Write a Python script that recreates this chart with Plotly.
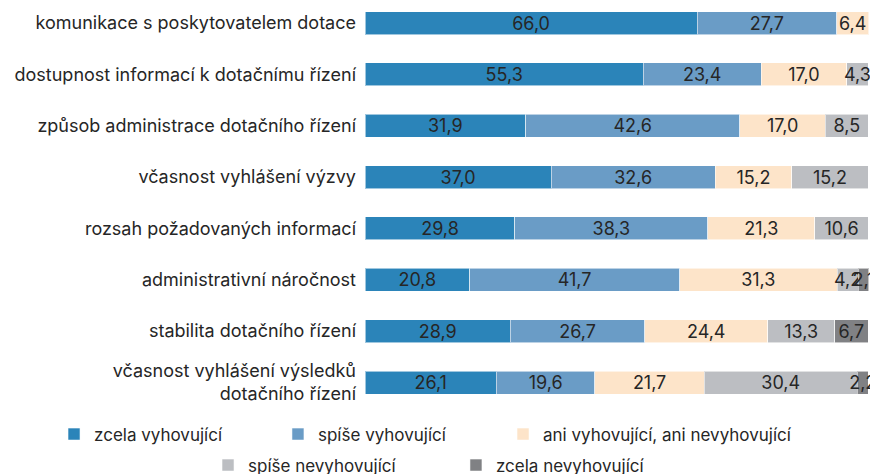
import plotly.graph_objects as go

categories = [
    "komunikace s poskytovatelem dotace",
    "dostupnost informací k dotačnímu řízení",
    "způsob administrace dotačního řízení",
    "včasnost vyhlášení výzvy",
    "rozsah požadovaných informací",
    "administrativní náročnost",
    "stabilita dotačního řízení",
    "včasnost vyhlášení výsledků<br>dotačního řízení",
]

series_names = [
    "zcela vyhovující",
    "spíše vyhovující",
    "ani vyhovující, ani nevyhovující",
    "spíše nevyhovující",
    "zcela nevyhovující",
]

zcela_vyhovujici = [66.0, 55.3, 31.9, 37.0, 29.8, 20.8, 28.9, 26.1]
spise_vyhovujici = [27.7, 23.4, 42.6, 32.6, 38.3, 41.7, 26.7, 19.6]
ani_ani = [6.4, 17.0, 17.0, 15.2, 21.3, 31.3, 24.4, 21.7]
spise_nevyhovujici = [None, 4.3, 8.5, 15.2, 10.6, 4.2, 13.3, 30.4]
zcela_nevyhovujici = [None, None, None, None, None, 2.1, 6.7, 2.2]

series_values = [zcela_vyhovujici, spise_vyhovujici, ani_ani,
                 spise_nevyhovujici, zcela_nevyhovujici]
colors = ["#2b84b9", "#6a9cc6", "#fde4c9", "#bcbec2", "#808184"]
legend_ids = ["legend", "legend2", "legend3", "legend4", "legend5"]
# legend entry positions (container fractions)
legend_x = [0.0621, 0.3195, 0.5782, 0.2391, 0.5241]
legend_y = [0.1213, 0.1213, 0.1213, 0.0559, 0.0559]

FONT = "Inter"
TXT = "#262626"

fig = go.Figure()
for name, vals, col, lg in zip(series_names, series_values, colors, legend_ids):
    fig.add_trace(go.Bar(
        y=categories, x=vals, name=name, orientation="h",
        marker=dict(color=col, line=dict(color="rgba(255,255,255,0.55)", width=1)),
        text=vals, texttemplate="%{x:.1f}", textposition="inside",
        insidetextanchor="middle", textangle=0, constraintext="none",
        textfont=dict(family=FONT, size=18, color=TXT),
        cliponaxis=False, legend=lg, showlegend=True,
    ))

legends = {}
for lg, lx, ly in zip(legend_ids, legend_x, legend_y):
    legends[lg] = dict(orientation="h", xref="container", yref="container",
                       x=lx, y=ly, xanchor="left", yanchor="top",
                       font=dict(family=FONT, size=17, color=TXT),
                       bgcolor="rgba(0,0,0,0)")

fig.update_layout(
    width=870, height=474,
    showlegend=True,
    barmode="stack", bargap=0.552,
    separators=",.",
    paper_bgcolor="white", plot_bgcolor="white",
    margin=dict(l=365, r=1, t=0, b=66, autoexpand=False),
    font=dict(family=FONT, size=18, color=TXT),
    xaxis=dict(range=[0, 100.15], visible=False, fixedrange=True),
    yaxis=dict(range=[7.4965, -0.448], showgrid=False, zeroline=False,
               ticks="", ticklabelstandoff=8,
               tickfont=dict(family=FONT, size=18, color=TXT)),
    **legends,
)

fig.write_html(
    "out.html",
    config={"displayModeBar": False},
    post_script="document.body.style.margin='0px';document.body.style.overflow='hidden';",
)
